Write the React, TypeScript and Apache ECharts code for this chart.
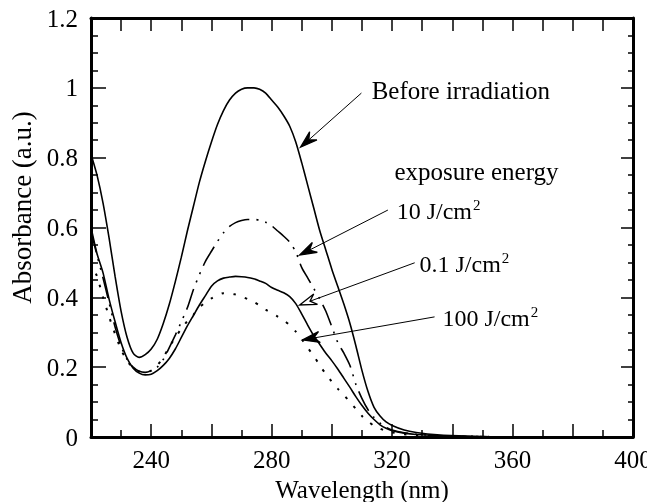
import React, { useEffect, useRef } from 'react';
import * as echarts from 'echarts';

// Wavelength grid (nm)
const wavelength = [
  220, 222, 224, 226, 228, 230, 232, 234, 236, 238,
  240, 242, 244, 246, 248, 250, 252, 254, 256, 258,
  260, 262, 264, 266, 268, 270, 272, 274, 276, 278,
  280, 282, 284, 286, 288, 290, 292, 294, 296, 298,
  300, 302, 304, 306, 308, 310, 312, 314, 316, 318,
  320, 324, 328, 335, 345, 360, 400,
];

// Absorbance (a.u.)
const beforeIrradiation = [
  0.81, 0.75, 0.67, 0.57, 0.46, 0.36, 0.285, 0.24, 0.228, 0.236,
  0.252, 0.28, 0.325, 0.38, 0.445, 0.515, 0.59, 0.66, 0.73, 0.79,
  0.845, 0.895, 0.935, 0.965, 0.985, 0.996, 1.0, 1.0, 0.996, 0.985,
  0.965, 0.945, 0.92, 0.89, 0.845, 0.785, 0.72, 0.655, 0.59, 0.535,
  0.48, 0.43, 0.38, 0.325, 0.26, 0.19, 0.13, 0.085, 0.06, 0.043,
  0.033, 0.02, 0.013, 0.006, 0.002, 0, 0,
];

const exposure0p1 = [
  0.6, 0.525, 0.47, 0.395, 0.33, 0.27, 0.225, 0.197, 0.183, 0.178,
  0.18, 0.19, 0.205, 0.225, 0.252, 0.285, 0.318, 0.348, 0.378, 0.405,
  0.432, 0.447, 0.455, 0.458, 0.46, 0.459, 0.457, 0.453, 0.447, 0.44,
  0.428, 0.42, 0.413, 0.402, 0.382, 0.352, 0.32, 0.29, 0.265, 0.24,
  0.218, 0.194, 0.168, 0.142, 0.115, 0.09, 0.068, 0.05, 0.035, 0.025,
  0.018, 0.011, 0.007, 0.004, 0.002, 0, 0,
];

const exposure10 = [
  0.59, 0.52, 0.455, 0.385, 0.315, 0.26, 0.222, 0.2, 0.188, 0.185,
  0.19, 0.2, 0.222, 0.256, 0.292, 0.33, 0.37, 0.422, 0.465, 0.503,
  0.532, 0.56, 0.585, 0.603, 0.614, 0.62, 0.623, 0.623, 0.621, 0.615,
  0.605, 0.59, 0.575, 0.558, 0.53, 0.485, 0.455, 0.425, 0.395, 0.36,
  0.315, 0.27, 0.24, 0.205, 0.15, 0.11, 0.078, 0.056, 0.04, 0.028,
  0.02, 0.012, 0.008, 0.004, 0.002, 0, 0,
];

const exposure100 = [
  0.5, 0.46, 0.4, 0.345, 0.295, 0.25, 0.218, 0.198, 0.188, 0.185,
  0.19, 0.205, 0.228, 0.258, 0.285, 0.31, 0.332, 0.35, 0.372, 0.385,
  0.397, 0.406, 0.412, 0.412, 0.408, 0.402, 0.395, 0.387, 0.377, 0.365,
  0.355, 0.345, 0.334, 0.32, 0.302, 0.28, 0.255, 0.232, 0.205, 0.18,
  0.158, 0.138, 0.12, 0.1, 0.08, 0.06, 0.045, 0.032, 0.024, 0.017,
  0.013, 0.008, 0.005, 0.003, 0.001, 0, 0,
];

// Axis tick labels shown on the wavelength axis
const xTickLabels = [240, 280, 320, 360, 400];

// Annotations (data coordinates)
const arrowFrom = [[309.8, 0.985], [318.6, 0.65], [327.5, 0.499], [334.1, 0.344]];
const arrowTo = [[289.6, 0.83], [289.3, 0.521], [289.3, 0.378], [290.3, 0.278]];
const arrowOpen = [false, false, true, false];
const labelMain = ['Before irradiation', 'exposure energy', '10 J/cm', '0.1 J/cm', '100 J/cm'];
const labelSup = ['', '', '2', '2', '2'];
const labelAt = [[313.2, 0.991], [320.8, 0.759], [321.5, 0.648], [329.1, 0.496], [336.7, 0.341]];

const FONT = 'serif';

function measure(text: string, size: number): number {
  const ctx = document.createElement('canvas').getContext('2d');
  if (!ctx) return text.length * size * 0.45;
  ctx.font = `${size}px serif`;
  return ctx.measureText(text).width;
}

const mkAxisLine = () => ({ show: true, onZero: false, lineStyle: { color: '#000000', width: 3 } });
const mkTick = (length: number, extra: any = {}) => ({
  show: true, inside: true, length, lineStyle: { color: '#000000', width: 1.5 }, ...extra,
});

export default function App() {
  const ref = useRef<HTMLDivElement>(null);

  useEffect(() => {
    const chart = echarts.init(ref.current!, null, { renderer: 'svg' });
    const pair = (ys: number[]) => wavelength.map((x, i) => [x, ys[i]]);
    const lineSeries = (name: string, ys: number[], type: any, width = 1.6) => ({
      name,
      type: 'line',
      data: pair(ys),
      xAxisIndex: 0,
      yAxisIndex: 0,
      showSymbol: false,
      symbol: 'none',
      smooth: 0.25,
      silent: true,
      lineStyle: { color: '#000000', width, type },
    });

    chart.setOption({
      animation: false,
      grid: { left: 91, right: 14, top: 18, bottom: 65, outerBoundsMode: 'none' },
      xAxis: [
        {
          type: 'value', min: 220, max: 400, interval: 20, position: 'bottom',
          axisLine: mkAxisLine(), axisTick: mkTick(13),
          minorTick: mkTick(7, { splitNumber: 2 }),
          axisLabel: {
            color: '#000000', fontFamily: FONT, fontSize: 25, margin: 10,
            formatter: (v: number) => (xTickLabels.indexOf(v) >= 0 ? String(v) : ''),
          },
          name: 'Wavelength (nm)', nameLocation: 'middle', nameGap: 38,
          nameTextStyle: { color: '#000000', fontFamily: FONT, fontSize: 25 },
          splitLine: { show: false }, minorSplitLine: { show: false },
        },
        {
          type: 'value', min: 220, max: 400, interval: 10, position: 'top',
          axisLine: mkAxisLine(), axisTick: mkTick(13),
          axisLabel: { show: false }, splitLine: { show: false },
        },
      ],
      yAxis: [
        {
          type: 'value', min: 0, max: 1.2, interval: 0.2, position: 'left',
          axisLine: mkAxisLine(), axisTick: mkTick(15),
          minorTick: mkTick(7, { splitNumber: 4 }),
          axisLabel: { color: '#000000', fontFamily: FONT, fontSize: 25, margin: 13 },
          name: 'Absorbance (a.u.)', nameLocation: 'middle', nameGap: 56,
          nameTextStyle: { color: '#000000', fontFamily: FONT, fontSize: 27, padding: [0, 0, 0, 40] },
          splitLine: { show: false }, minorSplitLine: { show: false },
        },
        {
          type: 'value', min: 0, max: 1.2, interval: 0.2, position: 'right',
          axisLine: mkAxisLine(), axisTick: mkTick(12),
          minorTick: mkTick(5, { splitNumber: 4 }),
          axisLabel: { show: false },
          splitLine: { show: false }, minorSplitLine: { show: false },
        },
      ],
      series: [
        lineSeries('Before irradiation', beforeIrradiation, 'solid'),
        lineSeries('10 J/cm2', exposure10, [22, 7, 2, 7, 2, 7]),
        lineSeries('0.1 J/cm2', exposure0p1, 'solid'),
        lineSeries('100 J/cm2', exposure100, [2.5, 9.5], 2),
      ],
    });

    const toPx = (p: number[]) =>
      chart.convertToPixel({ xAxisIndex: 0, yAxisIndex: 0 } as any, p) as unknown as number[];

    const graphics: any[] = [];
    arrowFrom.forEach((from, i) => {
      const a = toPx(from);
      const b = toPx(arrowTo[i]);
      const dx = b[0] - a[0];
      const dy = b[1] - a[1];
      const len = Math.hypot(dx, dy);
      const ux = dx / len;
      const uy = dy / len;
      const nx = -uy;
      const ny = ux;
      const L = 17;
      const W = 5.5;
      const N = 11;
      const back1 = [b[0] - ux * L + nx * W, b[1] - uy * L + ny * W];
      const back2 = [b[0] - ux * L - nx * W, b[1] - uy * L - ny * W];
      const notch = [b[0] - ux * N, b[1] - uy * N];
      graphics.push({
        type: 'line', silent: true,
        shape: { x1: a[0], y1: a[1], x2: notch[0], y2: notch[1] },
        style: { stroke: '#000000', lineWidth: 1 },
      });
      graphics.push({
        type: 'polygon', silent: true,
        shape: { points: [b, back1, notch, back2] },
        style: { fill: arrowOpen[i] ? '#ffffff' : '#000000', stroke: '#000000', lineWidth: 1.3 },
      });
    });

    labelMain.forEach((t, i) => {
      const p = toPx(labelAt[i]);
      const size = labelSup[i] ? 24 : 25;
      graphics.push({
        type: 'text', silent: true, x: p[0], y: p[1],
        style: { text: t, fill: '#000000', fontSize: size, fontFamily: FONT, align: 'left', verticalAlign: 'middle' },
      });
      if (labelSup[i]) {
        const w = measure(t, size);
        graphics.push({
          type: 'text', silent: true, x: p[0] + w + 1, y: p[1] - 6,
          style: { text: labelSup[i], fill: '#000000', fontSize: 15, fontFamily: FONT, align: 'left', verticalAlign: 'middle' },
        });
      }
    });

    chart.setOption({ graphic: graphics });

    return () => chart.dispose();
  }, []);

  return (
    <div
      ref={ref}
      style={{ position: 'fixed', left: 0, top: 0, width: 647, height: 502 }}
    />
  );
}
